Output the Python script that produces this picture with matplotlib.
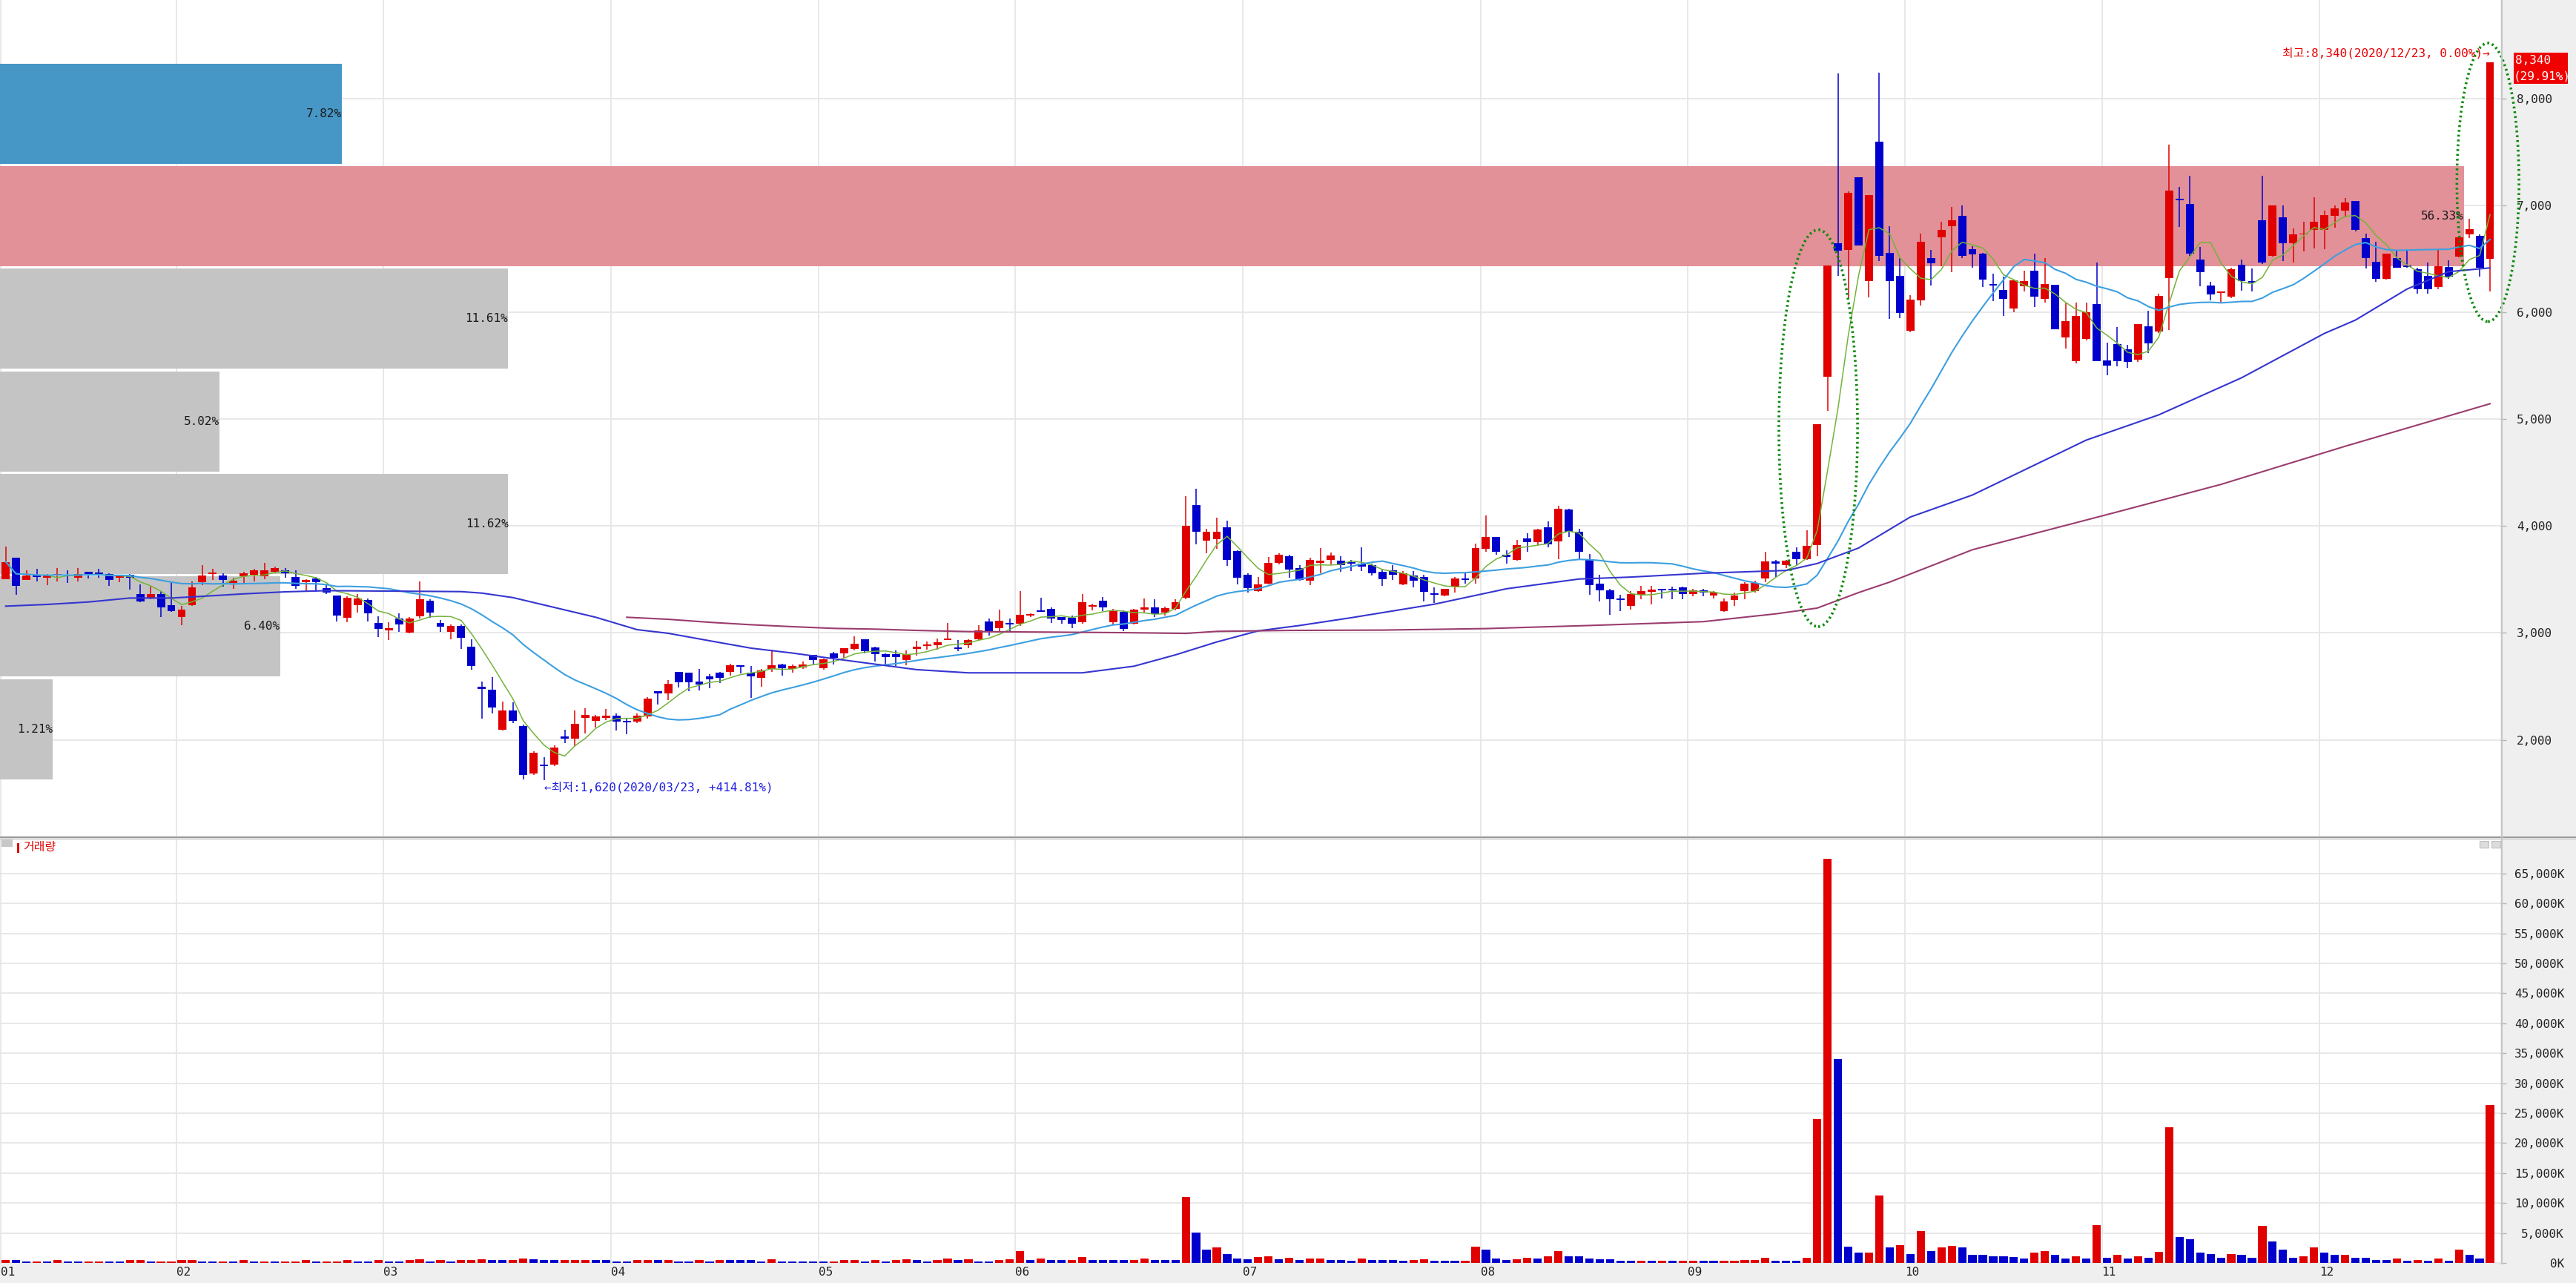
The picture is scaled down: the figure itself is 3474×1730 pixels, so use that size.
"""
Daily candles for 2020 (Jan 7 .. Dec 23) with moving averages, a
price-by-volume profile and a volume panel, laid out like an HTS screen.
"""

import matplotlib
matplotlib.use("Agg")
import matplotlib.pyplot as plt
import numpy as np
import pandas as pd
from matplotlib.lines import Line2D
from matplotlib.patches import Ellipse, Rectangle

# ---------------------------------------------------------------- data
opens = [
    3505, 3701, 3493, 3539, 3516, 3535, 3539, 3516, 3574, 3567, 3551, 3516, 3544, 3366, 3320, 3366, 3257,
    3151, 3257, 3475, 3551, 3535, 3470, 3528, 3544, 3528, 3574, 3585, 3521, 3475, 3512, 3419, 3348, 3140, 3257, 3308, 3096,
    3024, 3135, 3003, 3158, 3304, 3096, 3013, 3066, 2874, 2500, 2472, 2091, 2273, 2130, 1687, 1760, 1765, 2033, 2010, 2204, 2176, 2204,
    2223, 2172, 2172, 2218, 2453, 2435, 2638, 2627, 2546, 2597, 2627, 2634, 2701, 2627, 2581, 2661, 2708, 2666, 2680, 2793,
    2673, 2812, 2809, 2851, 2939, 2865, 2805, 2800, 2749, 2851, 2881, 2885, 2934, 2856, 2888, 2943, 3105, 3047, 3096,
    3089, 3165, 3211, 3223, 3147, 3142, 3100, 3246, 3304, 3100, 3200, 3089, 3216, 3239, 3193, 3227, 3327, 4198, 3863, 3881, 3990, 3770,
    3544, 3389, 3463, 3655, 3719, 3606, 3487, 3657, 3686, 3675, 3661, 3650, 3632, 3570, 3588, 3458, 3541, 3523, 3365, 3353, 3432, 3512, 3512,
    3788, 3896, 3730, 3686, 3885, 3849, 3990, 3860, 4157, 3947, 3693, 3462, 3396, 3320, 3251, 3360, 3385, 3414, 3414, 3425,
    3367, 3396, 3353, 3208, 3306, 3389, 3389, 3512, 3668, 3632, 3759, 3693, 3824, 5400, 6650, 6585, 7267, 6295, 7598, 6559, 6339,
    5826, 6115, 6508, 6700, 6808, 6901, 6589, 6547, 6262, 6208, 6039, 6247, 6392, 6127, 6261, 5762, 5545, 5752, 6080,
    5549, 5706, 5653, 5554, 5873, 5822, 6323, 7060, 7016, 6496, 6254, 6182, 6145, 6445, 6293, 6861, 6531, 6889, 6646, 6727, 6769,
    6773, 6901, 6954, 7039, 6693, 6473, 6312, 6508, 6431, 6404, 6339, 6238, 6422, 6519, 6727, 6716, 6501,
]
highs = [
    3805, 3701, 3585, 3597, 3551, 3609, 3585, 3609, 3574, 3597, 3562, 3544, 3551, 3458, 3435, 3389, 3475,
    3251, 3481, 3636, 3597, 3562, 3516, 3574, 3602, 3655, 3620, 3609, 3585, 3505, 3521, 3447, 3348, 3343, 3366, 3320, 3158,
    3100, 3181, 3147, 3482, 3313, 3124, 3082, 3082, 2939, 2546, 2588, 2361, 2350, 2142, 1895, 1835, 1950, 2096, 2273, 2296, 2234, 2287,
    2250, 2204, 2250, 2400, 2453, 2558, 2638, 2627, 2661, 2615, 2638, 2712, 2701, 2689, 2661, 2846, 2712, 2708, 2731, 2793,
    2759, 2823, 2856, 2971, 2943, 2869, 2812, 2835, 2835, 2927, 2920, 2950, 3096, 2934, 2943, 3073, 3135, 3220, 3135,
    3389, 3181, 3327, 3239, 3151, 3165, 3366, 3274, 3336, 3227, 3211, 3227, 3320, 3313, 3244, 3313, 4283, 4352, 3978, 4082, 4052, 3775,
    3558, 3521, 3713, 3747, 3729, 3632, 3704, 3795, 3751, 3715, 3686, 3802, 3650, 3596, 3632, 3577, 3577, 3548, 3425, 3414, 3523, 3559, 3838,
    4103, 3896, 3777, 3874, 3932, 3976, 4041, 4193, 4164, 3976, 3740, 3548, 3414, 3360, 3389, 3440, 3440, 3414, 3432, 3432,
    3414, 3414, 3389, 3324, 3378, 3476, 3487, 3759, 3686, 3686, 3802, 3958, 4954, 6440, 8234, 7136, 7267, 7100, 8240, 6808, 6508,
    6161, 6739, 6584, 6847, 6986, 7004, 6617, 6554, 6362, 6335, 6307, 6392, 6547, 6508, 6261, 6085, 6092, 6092, 6466,
    5716, 5861, 5699, 5891, 6016, 6172, 7570, 7171, 7277, 6612, 6288, 6196, 6415, 6496, 6409, 7277, 7004, 7000, 6785, 6847, 7078,
    6954, 7004, 7069, 7039, 6739, 6658, 6547, 6577, 6577, 6415, 6469, 6593, 6485, 6704, 6877, 6732, 8340,
]
lows = [
    3500, 3354, 3493, 3482, 3447, 3482, 3470, 3482, 3512, 3516, 3442, 3475, 3405, 3285, 3313, 3151, 3197,
    3073, 3250, 3447, 3493, 3435, 3412, 3458, 3482, 3505, 3562, 3516, 3412, 3389, 3382, 3366, 3110, 3100, 3193, 3110, 2962,
    2934, 3013, 2996, 3135, 3142, 3008, 2943, 2851, 2657, 2195, 2246, 2084, 2158, 1627, 1668, 1620, 1756, 1968, 1941, 2061, 2112, 2188,
    2089, 2056, 2160, 2200, 2327, 2373, 2488, 2453, 2465, 2481, 2534, 2604, 2620, 2396, 2500, 2638, 2604, 2627, 2661, 2696,
    2657, 2708, 2765, 2835, 2812, 2735, 2703, 2689, 2696, 2788, 2846, 2842, 2934, 2828, 2858, 2927, 2973, 3008, 3020,
    3066, 3151, 3197, 3096, 3089, 3043, 3089, 3211, 3204, 3082, 3020, 3082, 3181, 3151, 3165, 3211, 3313, 3828, 3743, 3789, 3627, 3458,
    3378, 3382, 3458, 3643, 3516, 3487, 3451, 3559, 3643, 3570, 3577, 3577, 3541, 3440, 3498, 3451, 3425, 3295, 3280, 3342, 3378, 3461, 3461,
    3759, 3730, 3650, 3679, 3759, 3824, 3802, 3693, 3896, 3686, 3360, 3295, 3172, 3208, 3222, 3317, 3270, 3324, 3317, 3317,
    3342, 3342, 3324, 3197, 3251, 3317, 3378, 3476, 3523, 3606, 3632, 3686, 3715, 5081, 6339, 6132, 6629, 6143, 6480, 5942, 5947,
    5815, 6062, 6254, 6432, 6376, 6508, 6415, 6238, 6104, 5970, 6000, 6196, 6053, 6092, 5845, 5660, 5526, 5738, 5545,
    5411, 5498, 5480, 5538, 5619, 5808, 5838, 6797, 6531, 6247, 6115, 6085, 6131, 6201, 6196, 6455, 6519, 6478, 6469, 6570, 6600,
    6593, 6792, 6889, 6755, 6409, 6288, 6307, 6415, 6420, 6178, 6178, 6219, 6316, 6515, 6693, 6335, 6196,
]
closes = [
    3666, 3442, 3539, 3521, 3539, 3551, 3535, 3551, 3551, 3551, 3493, 3535, 3516, 3297, 3366, 3239, 3204,
    3221, 3428, 3539, 3567, 3493, 3488, 3562, 3585, 3585, 3609, 3562, 3442, 3493, 3475, 3377, 3165, 3327, 3320, 3181, 3036,
    3043, 3077, 3135, 3313, 3193, 3059, 3066, 2957, 2692, 2477, 2303, 2273, 2176, 1668, 1881, 1756, 1927, 2010, 2149, 2230, 2218, 2223,
    2172, 2165, 2223, 2384, 2435, 2523, 2539, 2539, 2518, 2569, 2581, 2701, 2685, 2592, 2648, 2701, 2673, 2694, 2703, 2747,
    2754, 2765, 2856, 2897, 2828, 2800, 2777, 2777, 2805, 2874, 2893, 2916, 2939, 2851, 2932, 3024, 3013, 3117, 3082,
    3170, 3177, 3197, 3135, 3124, 3089, 3285, 3251, 3239, 3204, 3036, 3221, 3239, 3177, 3232, 3290, 4001, 3944, 3948, 3948, 3682, 3516,
    3419, 3458, 3659, 3733, 3590, 3498, 3686, 3679, 3722, 3632, 3650, 3621, 3559, 3505, 3548, 3559, 3487, 3385, 3360, 3414, 3512, 3498, 3795,
    3896, 3759, 3708, 3824, 3849, 3969, 3831, 4164, 3947, 3759, 3451, 3396, 3317, 3310, 3367, 3389, 3407, 3396, 3396, 3367,
    3396, 3378, 3378, 3298, 3353, 3462, 3469, 3668, 3650, 3679, 3693, 3813, 4954, 6440, 6578, 7122, 6629, 7100, 6531, 6293, 5993,
    6122, 6663, 6457, 6769, 6861, 6531, 6542, 6307, 6250, 6127, 6300, 6293, 6150, 6265, 5845, 5916, 5965, 6000, 5545,
    5503, 5545, 5538, 5891, 5711, 6154, 7138, 7046, 6547, 6376, 6168, 6190, 6404, 6293, 6277, 6469, 7004, 6646, 6732, 6739, 6847,
    6912, 6970, 7028, 6769, 6508, 6316, 6547, 6415, 6427, 6219, 6219, 6432, 6335, 6704, 6778, 6415, 8340,
]
# daily volume, thousands of shares
volumes_k = [
    455, 440, 250, 255, 245, 455, 250, 245, 250, 255, 250, 245, 455, 460, 250, 255, 260,
    455, 460, 250, 245, 250, 245, 455, 250, 255, 250, 255, 260, 455, 250, 255, 260, 455, 250, 245, 455,
    250, 245, 455, 650, 250, 455, 250, 455, 460, 650, 455, 450, 455, 800, 600, 455, 450, 455, 460, 465, 455, 450,
    250, 245, 455, 460, 455, 460, 250, 245, 455, 250, 455, 450, 445, 440, 250, 600, 250, 245, 240, 235,
    230, 240, 455, 460, 250, 455, 250, 455, 650, 455, 250, 455, 790, 455, 650, 250, 245, 455, 650,
    2020, 455, 790, 455, 450, 455, 1000, 455, 450, 445, 440, 455, 790, 455, 450, 445, 10980, 5036, 2190, 2600, 1530, 790,
    585, 1000, 1077, 585, 916, 545, 750, 790, 545, 530, 380, 750, 545, 530, 520, 380, 545, 585, 380, 370, 360, 380, 2766,
    2230, 750, 545, 600, 900, 750, 1100, 2020, 1114, 1100, 800, 600, 560, 400, 390, 400, 380, 390, 370, 380,
    390, 380, 370, 380, 390, 500, 520, 900, 380, 370, 360, 900, 24000, 67500, 34000, 2766, 1720, 1750, 11300, 2650, 2980,
    1480, 5320, 2020, 2650, 2850, 2650, 1320, 1300, 1150, 1130, 990, 790, 1720, 2020, 1320, 790, 1077, 750, 6350,
    916, 1320, 750, 1077, 916, 1820, 22700, 4280, 3960, 1720, 1480, 916, 1520, 1320, 916, 6150, 3590, 2230, 916, 1077, 2650,
    1720, 1320, 1340, 916, 900, 545, 540, 750, 380, 545, 380, 750, 380, 2230, 1320, 750, 26300,
]

month_labels = ["01", "02", "03", "04", "05", "06", "07", "08", "09", "10", "11", "12"]
month_first_idx = [0, 17, 37, 59, 79, 98, 120, 143, 163, 184, 203, 224]

ma60_idx = [0, 4, 8, 12, 16, 19, 23, 27, 31, 44, 46, 49, 53, 57, 61, 64, 68, 72, 76, 80, 84, 88, 93,
            104, 109, 113, 117, 121, 125, 130, 138, 145, 152, 157, 164, 172, 175, 179, 184, 190,
            201, 208, 216, 224, 227, 232, 236, 240]
ma60_val = [3251, 3267, 3290, 3327, 3327, 3343, 3366, 3385, 3396, 3387, 3373, 3331, 3239, 3147, 3031, 2997,
            2927, 2858, 2812, 2759, 2708, 2657, 2627, 2627, 2689, 2795, 2916, 3020, 3070, 3143, 3269, 3414,
            3505, 3523, 3559, 3585, 3650, 3795, 4085, 4291, 4805, 5041, 5388, 5803, 5928, 6219, 6381, 6416]
ma120_idx = [60, 64, 68, 72, 76, 80, 84, 88, 93, 101, 108, 114, 117, 124, 133, 143, 153, 164, 171, 175,
             179, 182, 190, 204, 214, 226, 240]
ma120_val = [3147, 3128, 3100, 3077, 3059, 3043, 3036, 3024, 3013, 3008, 3003, 2996, 3015, 3024, 3027,
             3041, 3070, 3106, 3179, 3233, 3378, 3476, 3779, 4133, 4390, 4747, 5145]

# price-by-volume profile, bins from the period low to the period high (bottom to top)
profile_pct = [1.21, 6.40, 11.62, 5.02, 11.61, 56.33, 7.82]
profile_low, profile_high = 1620, 8340

price_ticks = [2000, 3000, 4000, 5000, 6000, 7000, 8000]
vol_ticks = list(range(0, 65001, 5000))

high_label = "최고:8,340(2020/12/23, 0.00%)→"
low_label = "←최저:1,620(2020/03/23, +414.81%)"
last_label = ["8,340", "(29.91%)"]

assert len(opens) == len(highs) == len(lows) == len(closes) == len(volumes_k) == 241

# ---------------------------------------------------------------- style
W, H = 3474, 1730
PLOT_RIGHT = 3372
PRICE_BOTTOM = 1127
VOL_TOP, VOL_BOTTOM = 1131, 1704
RED, BLUE = "#e00000", "#0000cc"
GRID = "#e6e6e6"
MONO = ["DejaVu Sans Mono", "Noto Sans CJK KR"]
KOR = ["Noto Sans CJK KR", "DejaVu Sans"]


def fx(px):
    return px / W


def fy(py):
    return 1 - py / H


o = np.array(opens, float)
c = np.array(closes, float)
h = np.maximum(np.array(highs, float), np.maximum(o, c))
l = np.minimum(np.array(lows, float), np.minimum(o, c))
v = np.array(volumes_k, float)
x = np.arange(len(c))
month_pos = np.array(month_first_idx) - 0.5

fig = plt.figure(figsize=(W / 100, H / 100), dpi=100, facecolor="#efefef")
ax = fig.add_axes([0, fy(PRICE_BOTTOM), fx(PLOT_RIGHT), PRICE_BOTTOM / H])
axv = fig.add_axes([0, fy(VOL_BOTTOM), fx(PLOT_RIGHT), (VOL_BOTTOM - VOL_TOP) / H])

for a in (ax, axv):
    a.set_facecolor("white")
    for s in a.spines.values():
        s.set_visible(False)
    a.set_xlim(-0.55, 241.0)
    a.set_xticks(month_pos)
    a.grid(True, color=GRID, lw=1.3)
    a.set_axisbelow(True)
    a.yaxis.tick_right()

# ---------------------------------------------------------------- price panel
ax.set_ylim(1102, 8923)
ax.set_yticks(price_ticks)
ax.set_yticklabels([f"{t:,}" for t in price_ticks], family=MONO)
ax.tick_params(axis="y", length=6, width=1, color="#b4b4b4", labelsize=11.5, pad=10, labelcolor="#222222")
ax.tick_params(axis="x", length=0, labelbottom=False)

# volume profile bars
bin_h = (profile_high - profile_low) / len(profile_pct)
days_per_pct = 59.0 / (PLOT_RIGHT / 241.5)
top_bin = len(profile_pct) - 1
max_bin = int(np.argmax(profile_pct))
for k, pct in enumerate(profile_pct):
    centre = profile_low + bin_h * (k + 0.5)
    colour = "#4697c6" if k == top_bin else ("#e29198" if k == max_bin else "#c4c4c4")
    width = pct * days_per_pct
    ax.barh(centre, width, height=bin_h * 0.975, left=-0.55, color=colour, lw=0, zorder=1)
    ax.text(-0.55 + width, centre, f"{pct:.2f}%", ha="right", va="center",
            family=MONO, fontsize=11.5, color="#1a1a1a", zorder=2)

# candles
up = c >= o
col = np.where(up, RED, BLUE)
ax.vlines(x, l, h, colors=col, lw=1.1, zorder=3)
ax.bar(x, np.maximum(np.abs(c - o), 12), bottom=np.minimum(o, c), width=0.78,
       color=col, lw=0, zorder=3.1)

# moving averages
close_s = pd.Series(c)
ax.plot(x, close_s.rolling(5, min_periods=1).mean(), color="#74b33a", lw=1.1, zorder=4)
ax.plot(x, close_s.rolling(20, min_periods=1).mean(), color="#3d9fe0", lw=1.5, zorder=4)
ax.plot(ma60_idx, ma60_val, color="#3535d0", lw=1.5, zorder=4)
ax.plot(ma120_idx, ma120_val, color="#9b3c6e", lw=1.5, zorder=4)

# high / low notes
ax.text(x[-1], 8423, high_label, ha="right", va="center", family=MONO, fontsize=11.5,
        color="#e60000", zorder=5)
ax.text(int(np.argmin(l)), 1553, low_label, ha="left", va="center", family=MONO, fontsize=11.5,
        color="#1f1fe0", zorder=5)

# dotted ellipses around the two breakouts
for cx, cy, ew, eh in [(175.1, 4916, 7.6, 3714), (239.8, 7217, 6.0, 2606)]:
    ax.add_patch(Ellipse((cx, cy), ew, eh, fill=False, edgecolor="#0a8a0a", lw=2.6,
                         linestyle=(0, (0.7, 1.1)), zorder=6, clip_on=False))

# ---------------------------------------------------------------- volume panel
vol_col = [RED] + [RED if v[i] >= v[i - 1] else BLUE for i in range(1, len(v))]
axv.bar(x, v, width=0.8, color=vol_col, lw=0, zorder=3)
axv.set_ylim(-124, 70792)
axv.set_yticks(vol_ticks)
axv.set_yticklabels([f"{t:,}K" for t in vol_ticks], family=MONO, ha="right")
axv.tick_params(axis="y", length=6, width=1, color="#b4b4b4", labelsize=11.5, pad=56, labelcolor="#222222")
axv.set_xticklabels(month_labels, family=MONO, ha="left")
axv.tick_params(axis="x", length=0, pad=3, labelsize=11.5, labelcolor="#222222")

# ---------------------------------------------------------------- frame details
fig.add_artist(Line2D([0, 1], [fy(1128.5)] * 2, color="#9c9c9c", lw=1.6))
fig.add_artist(Line2D([0, 1], [fy(1131)] * 2, color="#d0d0d0", lw=1.0))
fig.add_artist(Line2D([fx(PLOT_RIGHT + 2)] * 2, [fy(0), fy(VOL_BOTTOM)], color="#c4c4c4", lw=1.4))

# last price tag on the axis
fig.add_artist(Rectangle((fx(3390), fy(113)), fx(73), 42 / H, color="#f00000", lw=0))
fig.text(fx(3392), fy(82), last_label[0], family=MONO, fontsize=11.5, color="white", va="center")
fig.text(fx(3390), fy(103), last_label[1], family=MONO, fontsize=11.5, color="white", va="center")

# volume panel title
fig.add_artist(Rectangle((fx(2), fy(1142)), fx(15), 10 / H, color="#c8c8c8", lw=0))
fig.add_artist(Rectangle((fx(23), fy(1150)), fx(3), 13 / H, color=RED, lw=0))
fig.text(fx(31), fy(1143), "거래량", family=KOR, fontsize=11.5, color="#e00000", va="center")

# panel buttons
for bx in (3344, 3360):
    fig.add_artist(Rectangle((fx(bx), fy(1143)), fx(12), 9 / H, facecolor="#dcdcdc",
                             edgecolor="#c0c0c0", lw=0.8))

fig.savefig("out.png", dpi=100, facecolor=fig.get_facecolor())
